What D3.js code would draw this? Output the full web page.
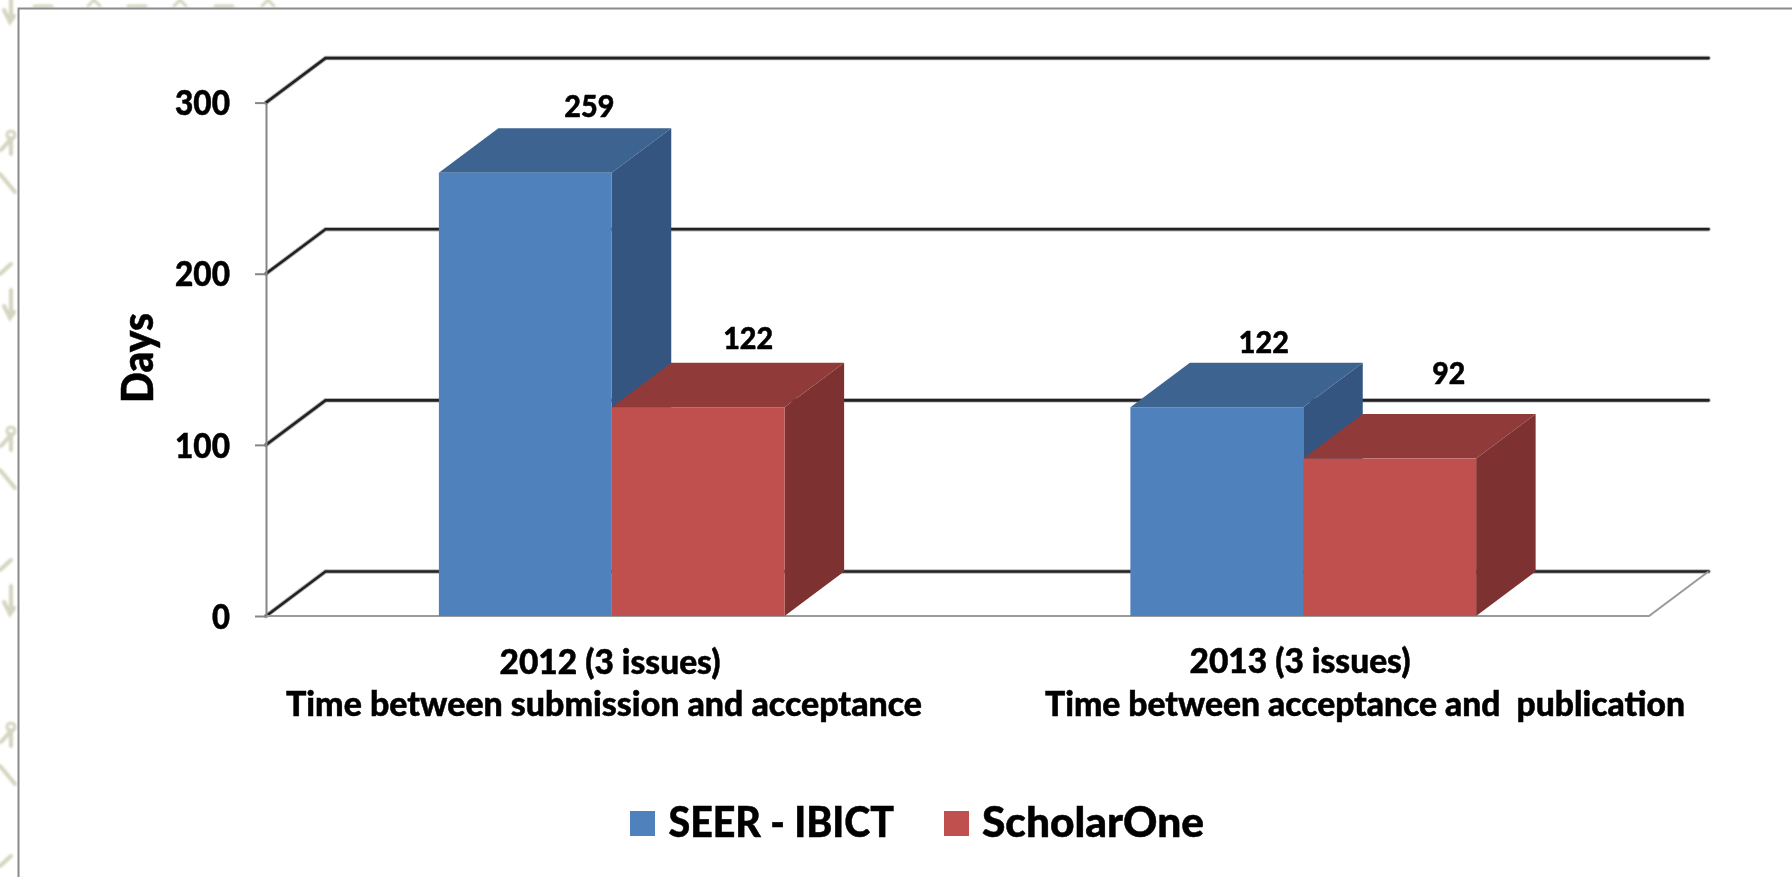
<!DOCTYPE html>
<html lang="en">
<head>
  <meta charset="UTF-8">
  <title>Days by journal system</title>
  <script src="https://d3js.org/d3.v7.min.js"></script>
  <style>
body {
  margin: 0;
  background: #fff;
  overflow: hidden;
}
svg {
  display: block;
}
text {
  font-family: Lato, 'Open Sans', sans-serif;
  font-weight: 900;
  fill: #000;
  stroke: #000;
  stroke-width: 0.5px;
}
.domain {
  stroke: #868686;
  stroke-width: 2px;
}
.tick line {
  stroke: #868686;
  stroke-width: 2px;
}
  </style>
</head>
<body>
<svg id="chart" width="1792" height="877"></svg>
<script>
/* global d3 */

var categories = ["2012", "2013"];
var seriesNames = ["SEER - IBICT", "ScholarOne"];
var seerValues = [259, 122];
var scholarValues = [122, 92];
var yTicks = [0, 100, 200, 300];
var barLabels = ["259", "122", "122", "92"];
var axisTitle = "Days";
var categoryLines = [
  ["2012 (3 issues)", "Time between submission and acceptance"],
  ["2013 (3 issues)", "Time between acceptance and  publication"]
];

var frameColor = "#8a8a8a";
var gridColor = "#222";
var floorColor = "#9a9a9a";
var seriesColors = [
  {front: "#4f81bd", top: "#3d6390", side: "#33557f"},
  {front: "#c0504d", top: "#903b39", side: "#7d3130"}
];

var depthX = 59.5;
var depthY = 44.5;

var svg = d3.select("#chart");

var x = d3.scaleBand().domain(categories).range([266, 1649]);
var y = d3.scaleLinear().domain([0, 300]).range([616, 102.6]);
var xSeries = d3.scaleBand().domain([0, 1]).range([-x.bandwidth() / 4, x.bandwidth() / 4]);

// the faint pattern of the slide behind the chart
var defs = svg.append("defs");
defs.append("filter").attr("id", "soft")
  .append("feGaussianBlur").attr("stdDeviation", 0.8);
var motif = defs.append("g").attr("id", "motif")
  .attr("fill", "none").attr("stroke", "#d4d4bf").attr("stroke-width", 4).attr("stroke-linecap", "round");
motif.append("path").attr("d", "M11 -4V14M4 8L10 20L14 14");
motif.append("circle").attr("cx", 11).attr("cy", 133).attr("r", 4).attr("stroke-width", 3);
motif.append("path").attr("d", "M11 136V152M10 138L1 148");
motif.append("path").attr("d", "M0 172L15 190");
motif.append("path").attr("d", "M0 272L11 262");
motif.append("path").attr("d", "M11 288V297");

var backdrop = svg.append("g").attr("filter", "url(#soft)");
d3.range(0, 3).forEach(function (i) {
  backdrop.append("use").attr("href", "#motif").attr("transform", "translate(0," + (i * 296 + 2) + ")");
});

backdrop.append("g")
  .attr("fill", "none").attr("stroke", "#d4d4bf").attr("stroke-width", 3).attr("stroke-linecap", "round")
  .selectAll("path")
  .data([34, 88, 128, 174, 215, 262])
  .enter().append("path")
  .attr("d", function (d, i) {
    return i % 2 ? "M" + d + " 6L" + (d + 6) + " 0L" + (d + 12) + " 6" : "M" + d + " 6H" + (d + 18);
  });

// outer frame, open on the right and bottom
svg.append("path")
  .attr("d", "M18.5 877V8.5H1792")
  .attr("fill", "none")
  .attr("stroke", frameColor)
  .attr("stroke-width", 2);

// gridlines on the back wall and the side wall
var grid = svg.append("g").attr("fill", "none").attr("stroke-linecap", "round");
grid.selectAll("path.halo")
  .data(yTicks)
  .enter().append("path")
  .attr("class", "halo")
  .attr("stroke", "#b5b5b5")
  .attr("stroke-width", 4.5)
  .attr("d", gridPath);
grid.selectAll("path.line")
  .data(yTicks)
  .enter().append("path")
  .attr("class", "line")
  .attr("stroke", gridColor)
  .attr("stroke-width", 2.6)
  .attr("d", gridPath);

function gridPath(d) {
  var x0 = x.range()[0];
  var x1 = x.range()[1];
  return d3.line()([[x0, y(d)], [x0 + depthX, y(d) - depthY], [x1 + depthX, y(d) - depthY]]);
}

// floor edges
svg.append("path")
  .attr("d", d3.line()([
    [x.range()[0], y(0)],
    [x.range()[1], y(0)],
    [x.range()[1] + depthX, y(0) - depthY]
  ]))
  .attr("fill", "none")
  .attr("stroke", floorColor)
  .attr("stroke-width", 2);

var yAxis = d3.axisLeft(y).tickValues(yTicks).tickSize(11).tickSizeOuter(0).tickPadding(25);
var axisG = svg.append("g")
  .attr("transform", "translate(" + x.range()[0] + ",0)")
  .call(yAxis);
axisG.selectAll("text")
  .attr("font-size", 35)
  .attr("textLength", function (d) { return d === 0 ? 18 : 55; })
  .attr("lengthAdjust", "spacingAndGlyphs")
  .attr("dy", "0.35em");

var bars = [];
categories.forEach(function (c, ci) {
  [seerValues, scholarValues].forEach(function (values, si) {
    bars.push({category: c, series: si, value: values[ci], label: barLabels[bars.length]});
  });
});

var bar = svg.selectAll("g.bar")
  .data(bars)
  .enter().append("g")
  .attr("class", "bar");

bar.append("path")
  .attr("fill", function (d) { return seriesColors[d.series].side; })
  .attr("d", function (d) {
    var r = barRight(d);
    return d3.line()([
      [r, y(d.value)], [r + depthX, y(d.value) - depthY],
      [r + depthX, y(0) - depthY], [r, y(0)]
    ]);
  });
bar.append("path")
  .attr("fill", function (d) { return seriesColors[d.series].top; })
  .attr("d", function (d) {
    var l = barLeft(d);
    var r = barRight(d);
    return d3.line()([
      [l, y(d.value)], [l + depthX, y(d.value) - depthY],
      [r + depthX, y(d.value) - depthY], [r, y(d.value)]
    ]);
  });
bar.append("rect")
  .attr("fill", function (d) { return seriesColors[d.series].front; })
  .attr("x", barLeft)
  .attr("y", function (d) { return y(d.value); })
  .attr("width", xSeries.bandwidth())
  .attr("height", function (d) { return y(0) - y(d.value); });

function barLeft(d) {
  return x(d.category) + x.bandwidth() / 2 + xSeries(d.series);
}
function barRight(d) {
  return barLeft(d) + xSeries.bandwidth();
}

// data labels were moved by hand in the original, so each has its own offset
var labelShift = [[64, -22], [50, -25], [47, -21], [59, -41]];
var labelWidth = [50, 50, 50, 33];

bar.append("text")
  .attr("font-size", 31)
  .attr("text-anchor", "middle")
  .attr("dy", "0.35em")
  .attr("x", function (d, i) { return (barLeft(d) + barRight(d)) / 2 + labelShift[i][0]; })
  .attr("y", function (d, i) { return y(d.value) - depthY + labelShift[i][1]; })
  .attr("textLength", function (d, i) { return labelWidth[i]; })
  .attr("lengthAdjust", "spacingAndGlyphs")
  .text(function (d) { return d.label; });

// category text boxes
var categoryBoxes = [
  [{cx: 610, base: 674, w: 221}, {cx: 604, base: 716, w: 636}],
  [{cx: 1300, base: 673, w: 221}, {cx: 1365, base: 716, w: 640}]
];
categoryLines.forEach(function (lines, i) {
  lines.forEach(function (line, j) {
    var b = categoryBoxes[i][j];
    svg.append("text")
      .attr("x", b.cx)
      .attr("y", b.base)
      .attr("font-size", 34)
      .attr("text-anchor", "middle")
      .attr("textLength", b.w)
      .attr("lengthAdjust", "spacingAndGlyphs")
      .style("white-space", "pre")
      .text(line);
  });
});

svg.append("text")
  .attr("transform", "translate(153,358) rotate(-90)")
  .attr("font-size", 44)
  .attr("text-anchor", "middle")
  .attr("textLength", 90)
  .attr("lengthAdjust", "spacingAndGlyphs")
  .text(axisTitle);

// legend
var legendItems = [
  {swatch: 630, text: 668.5, w: 225.5},
  {swatch: 944, text: 982, w: 222}
];
var legend = svg.selectAll("g.legend")
  .data(seriesNames)
  .enter().append("g")
  .attr("class", "legend");
legend.append("rect")
  .attr("x", function (d, i) { return legendItems[i].swatch; })
  .attr("y", 811)
  .attr("width", 25)
  .attr("height", 25)
  .attr("fill", function (d, i) { return seriesColors[i].front; });
legend.append("text")
  .attr("x", function (d, i) { return legendItems[i].text; })
  .attr("y", 837)
  .attr("font-size", 42)
  .attr("textLength", function (d, i) { return legendItems[i].w; })
  .attr("lengthAdjust", "spacingAndGlyphs")
  .text(function (d) { return d; });
</script>
</body>
</html>
